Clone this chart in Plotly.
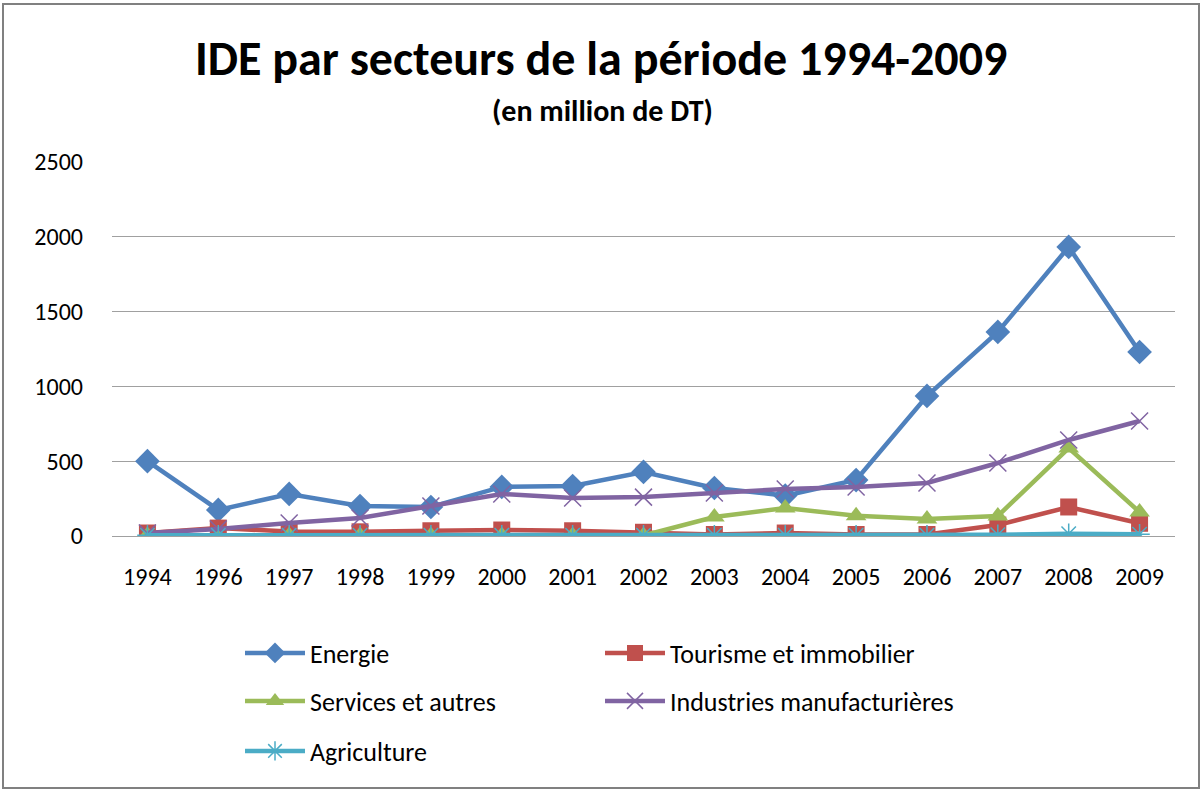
import plotly.graph_objects as go

years = ["1994", "1996", "1997", "1998", "1999", "2000", "2001", "2002",
         "2003", "2004", "2005", "2006", "2007", "2008", "2009"]
energie = [500, 174, 281, 200, 194, 328, 334, 428, 321, 270, 374, 936, 1364, 1932, 1230]
tourisme = [20, 53, 30, 28, 35, 40, 35, 25, 10, 20, 10, 10, 73, 194, 85]
services = [5, 2, 3, 3, 3, 3, 3, 3, 127, 187, 135, 114, 134, 588, 160]
industries = [20, 47, 87, 120, 200, 281, 254, 260, 287, 314, 328, 354, 488, 642, 769]
agriculture = [5, 5, 5, 5, 5, 5, 5, 5, 5, 5, 5, 5, 8, 15, 12]

series = [
    ("Energie", energie, "#4F81BD", "diamond", 19, "legend"),
    ("Tourisme et immobilier", tourisme, "#C0504D", "square", 17, "legend"),
    ("Services et autres", services, "#9BBB59", "triangle-up", 18, "legend2"),
    ("Industries manufacturières", industries, "#8064A2", "x-thin-open", 17, "legend2"),
    ("Agriculture", agriculture, "#4BACC6", "asterisk-open", 17, "legend3"),
]

FONT = "Carlito, Lato, 'DejaVu Sans'"

fig = go.Figure()
for name, vals, color, sym, size, leg in series:
    open_sym = sym.endswith("open")
    fig.add_trace(go.Scatter(
        x=years, y=vals, name=name, mode="lines+markers",
        line=dict(color=color, width=4.5),
        marker=dict(symbol=sym, size=size, color=color,
                    line=dict(color=color, width=1.5 if open_sym else 0)),
        legend=leg,
    ))

W, H = 1203, 791
L, R, T, B = 112, 28, 162, 255
pw, ph = W - L - R, H - T - B

def px_x(p):
    return (p - L) / pw

def px_y(p):
    return (H - B - p) / ph

legend_common = dict(orientation="h", xanchor="left", yanchor="middle",
                     entrywidth=285, entrywidthmode="pixels",
                     font=dict(family=FONT, size=26, color="#000000"),
                     bgcolor="rgba(0,0,0,0)", itemwidth=60)

fig.update_layout(
    width=W, height=H,
    margin=dict(l=L, r=R, t=T, b=B),
    paper_bgcolor="white", plot_bgcolor="white",
    font=dict(family=FONT, size=24, color="#000000"),
    showlegend=True,
    legend=dict(x=px_x(240), y=px_y(653), **legend_common),
    legend2=dict(x=px_x(240), y=px_y(701), **legend_common),
    legend3=dict(x=px_x(240), y=px_y(751), **legend_common),
    xaxis=dict(type="category", range=[-0.5, len(years) - 0.5],
               showgrid=False, showline=True,
               linecolor="#A0A0A0", linewidth=1.2, ticks="",
               tickfont=dict(family=FONT, size=24), ticklabelstandoff=19,
               zeroline=False),
    yaxis=dict(range=[0, 2500], dtick=500, showgrid=True,
               gridcolor="#A0A0A0", gridwidth=1.2, showline=False,
               zeroline=False, ticks="",
               tickfont=dict(family=FONT, size=24), ticklabelstandoff=28),
    annotations=[
        dict(text="<b>IDE par secteurs de la période 1994-2009</b>",
             xref="paper", yref="paper", x=px_x(601), y=px_y(58),
             xanchor="center", yanchor="middle", showarrow=False,
             font=dict(family=FONT, size=48, color="#000000")),
        dict(text="<b>(en million de DT)</b>",
             xref="paper", yref="paper", x=px_x(602), y=px_y(110),
             xanchor="center", yanchor="middle", showarrow=False,
             font=dict(family=FONT, size=30, color="#000000")),
    ],
    shapes=[
        dict(type="rect", xref="paper", yref="paper",
             x0=px_x(3), x1=px_x(1199), y0=px_y(788), y1=px_y(4),
             line=dict(color="#808080", width=2), layer="below"),
    ],
)

fig.write_html("out.html", config={"displayModeBar": False},
               post_script="document.body.style.margin='0';")
